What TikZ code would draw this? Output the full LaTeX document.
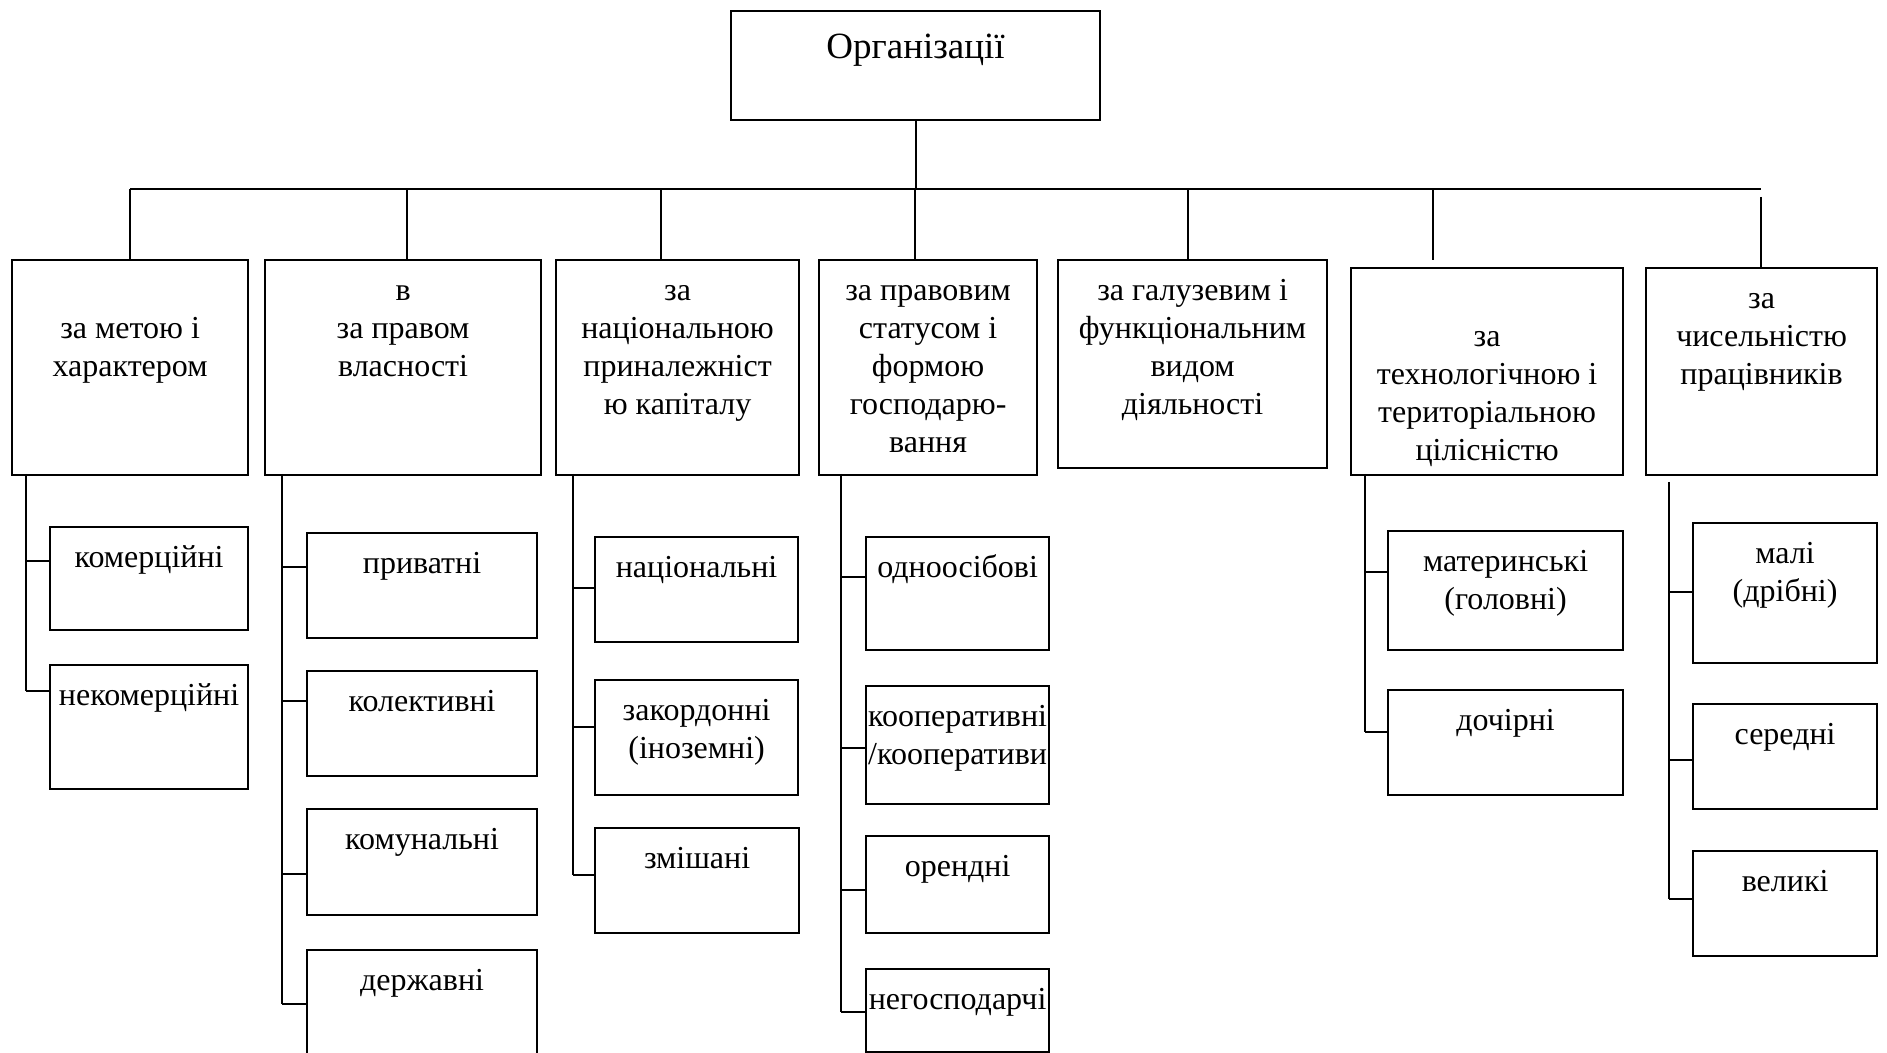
\documentclass[tikz,border=0pt]{standalone}
\usepackage{fontspec}
\setmainfont{Liberation Serif}
\usepackage{tikz}

\tikzset{
  box/.style={draw, line width=1.1pt, inner sep=0pt, anchor=north west},
  link/.style={line width=1pt},
}
% text block of a box: width, height, lines (first baseline 20pt below the top)
\newcommand{\boxtxt}[3]{\parbox[t][#2][t]{#1}{\centering\rule{0pt}{20pt}#3}}

\begin{document}
\begin{tikzpicture}[x=0.5pt, y=-0.5pt, every node/.style={font=\fontsize{16}{19}\selectfont}]
        \useasboundingbox (0,0) rectangle (1887,1053);
        \clip (0,0) rectangle (1887,1053);

        % Root
        \node[box, font=\fontsize{18.5}{22}\selectfont] (org) at (730,10)
            {\parbox[t][54.5pt][t]{184.5pt}{\centering\rule{0pt}{23.5pt}Організації}};

        % Bus
        \coordinate (busL) at (130,189);
        \coordinate (busR) at (1761,189);
        \draw[link] (busL) -- (busR);
        \draw[link] (org.south) -- (org.south |- busL);

        % Criteria
        \node[box] (c1) at (11,259) {\boxtxt{118pt}{107.5pt}{\\за метою і\\характером}};
        \node[box] (c2) at (264,259) {\boxtxt{138pt}{107.5pt}{в\\за правом\\власності}};
        \node[box] (c3) at (555,259) {\boxtxt{121.5pt}{107.5pt}{за\\національною\\приналежніст\\ю капіталу}};
        \node[box] (c4) at (818,259) {\boxtxt{109pt}{107.5pt}{за правовим\\статусом і\\формою\\господарю-\\вання}};
        \node[box] (c5) at (1057,259) {\boxtxt{134.5pt}{104pt}{за галузевим і\\функціональним\\видом\\діяльності}};
        \node[box] (c6) at (1350,267) {\boxtxt{136pt}{103.5pt}{\\за\\технологічною і\\територіальною\\цілісністю}};
        \node[box] (c7) at (1645,267) {\boxtxt{115.5pt}{103.5pt}{за\\чисельністю\\працівників}};

        % Drops from the bus
        \foreach \x [count=\i] in {130,407,661,915,1188} {
            \coordinate (b\i) at (\x,189);
            \draw[link] (b\i) -- (b\i |- c\i.north);
        }
        \coordinate (b6) at (1433,189);
        \draw[link] (b6) -- ++(0,71);
        \coordinate (b7) at (1761,197);
        \draw[link] (b7) -- (b7 |- c7.north);

        % Column 1
        \node[box] (s11) at (49,526) {\boxtxt{99pt}{51.5pt}{комерційні}};
        \node[box] (s12) at (49,664) {\boxtxt{99pt}{62pt}{некомерційні}};

        % Column 2
        \node[box] (s21) at (306,532) {\boxtxt{115pt}{52.5pt}{приватні}};
        \node[box] (s22) at (306,670) {\boxtxt{115pt}{52.5pt}{колективні}};
        \node[box] (s23) at (306,808) {\boxtxt{115pt}{53pt}{комунальні}};
        \node[box] (s24) at (306,949) {\boxtxt{115pt}{70pt}{державні}};

        % Column 3
        \node[box] (s31) at (594,536) {\boxtxt{101.5pt}{52.5pt}{національні}};
        \node[box] (s32) at (594,679) {\boxtxt{101.5pt}{57.5pt}{закордонні\\(іноземні)}};
        \node[box] (s33) at (594,827) {\boxtxt{102pt}{52.5pt}{змішані}};

        % Column 4
        \node[box] (s41) at (865,536) {\boxtxt{91.5pt}{56.5pt}{одноосібові}};
        \node[box] (s42) at (865,685) {\boxtxt{91.5pt}{59pt}{кооперативні\\/кооперативи}};
        \node[box] (s43) at (865,835) {\boxtxt{91.5pt}{48.5pt}{орендні}};
        \node[box] (s44) at (865,968) {\boxtxt{91.5pt}{41.5pt}{негосподарчі}};

        % Column 6
        \node[box] (s61) at (1387,530) {\boxtxt{117.5pt}{59.5pt}{материнські\\(головні)}};
        \node[box] (s62) at (1387,689) {\boxtxt{117.5pt}{52.5pt}{дочірні}};

        % Column 7
        \node[box] (s71) at (1692,522) {\boxtxt{92pt}{70pt}{малі\\(дрібні)}};
        \node[box] (s72) at (1692,703) {\boxtxt{92pt}{52.5pt}{середні}};
        \node[box] (s73) at (1692,850) {\boxtxt{92pt}{52.5pt}{великі}};

        % Trunks and ticks
        \coordinate (k1) at (26,474);
        \draw[link] (k1) -- (k1 |- 0,691);
        \foreach \s/\y in {s11/561, s12/691}
            \draw[link] (k1 |- 0,\y) -- (\s.west |- 0,\y);

        \coordinate (k2) at (282,474);
        \draw[link] (k2) -- (k2 |- 0,1004);
        \foreach \s/\y in {s21/567, s22/701, s23/874, s24/1004}
            \draw[link] (k2 |- 0,\y) -- (\s.west |- 0,\y);

        \coordinate (k3) at (573,474);
        \draw[link] (k3) -- (k3 |- 0,875);
        \foreach \s/\y in {s31/588, s32/727, s33/875}
            \draw[link] (k3 |- 0,\y) -- (\s.west |- 0,\y);

        \coordinate (k4) at (841,474);
        \draw[link] (k4) -- (k4 |- 0,1012);
        \foreach \s/\y in {s41/577, s42/748, s43/890, s44/1012}
            \draw[link] (k4 |- 0,\y) -- (\s.west |- 0,\y);

        \coordinate (k6) at (1365,474);
        \draw[link] (k6) -- (k6 |- 0,732);
        \foreach \s/\y in {s61/572, s62/732}
            \draw[link] (k6 |- 0,\y) -- (\s.west |- 0,\y);

        \coordinate (k7) at (1669,482);
        \draw[link] (k7) -- (k7 |- 0,899);
        \foreach \s/\y in {s71/592, s72/760, s73/899}
            \draw[link] (k7 |- 0,\y) -- (\s.west |- 0,\y);
    \end{tikzpicture}
\end{document}
